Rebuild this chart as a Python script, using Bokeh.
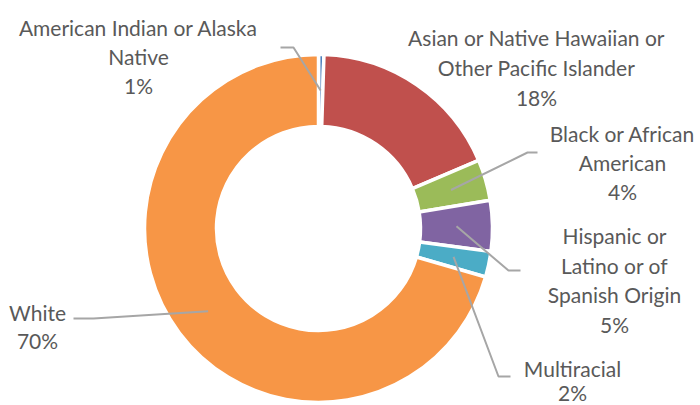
import math
from bokeh.plotting import figure
from bokeh.models import Range1d
from bokeh.core.properties import value
from bokeh.embed import file_html
from bokeh.resources import INLINE

# ---- data ----
categories = ["American Indian or Alaska Native",
              "Asian or Native Hawaiian or Other Pacific Islander",
              "Black or African American",
              "Hispanic or Latino or of Spanish Origin",
              "Multiracial",
              "White"]
shares = [0.5, 18.1, 3.8, 4.7, 2.4, 70.5]  # percent
pct_labels = ["1%", "18%", "4%", "5%", "2%", "70%"]
label_lines = [["American Indian or Alaska", "Native"],
               ["Asian or Native Hawaiian or", "Other Pacific Islander"],
               ["Black or African", "American"],
               ["Hispanic or", "Latino or of", "Spanish Origin"],
               ["Multiracial"],
               ["White"]]
colors = ["#4F81BD", "#C0504D", "#9BBB59", "#8064A2", "#4BACC6", "#F79646"]

# ---- layout (window pixel coordinates; y measured from top) ----
W, H = 700, 405
def Y(py):
    return H - py

cx, cy = 318, Y(228)
R_out, R_in = 174, 102
R_mid = (R_out + R_in) / 2

# label anchor: (center x, first baseline y) and line spacing
label_pos = [(138, 27), (536, 37), (622, 133), (614, 235), (572, 368), (37, 312)]
line_gap = [29, 30, 29, 29.5, 24, 28]
# leader elbows / ends (None = no leader)
leader_path = [[(293, 47), (280, 47)],
               None,
               [(527, 152), (537, 152)],
               [(508, 270), (520, 270)],
               [(498, 376), (510, 376)],
               [(93, 318), (73, 318)]]

p = figure(width=W, height=H, output_backend="svg", toolbar_location=None,
           x_range=Range1d(0, W), y_range=Range1d(0, H),
           min_border=0, min_border_left=0, min_border_right=0,
           min_border_top=0, min_border_bottom=0)
p.axis.visible = False
p.grid.visible = False
p.outline_line_color = None
p.background_fill_color = "white"
p.border_fill_color = "white"

total = sum(shares)
cum = 0.0
starts, ends, mids = [], [], []
for s in shares:
    a0 = math.pi / 2 - 2 * math.pi * cum / total
    cum += s
    a1 = math.pi / 2 - 2 * math.pi * cum / total
    starts.append(a0)
    ends.append(a1)
    mids.append((a0 + a1) / 2)

p.annular_wedge(x=[cx] * len(shares), y=[cy] * len(shares),
                inner_radius=R_in, outer_radius=R_out,
                start_angle=starts, end_angle=ends, direction="clock",
                fill_color=colors, line_color="white", line_width=3.5)

# leader lines
for i, path in enumerate(leader_path):
    if path is None:
        continue
    sx = cx + R_mid * math.cos(mids[i])
    sy = cy + R_mid * math.sin(mids[i])
    xs = [sx] + [q[0] for q in path]
    ys = [sy] + [Y(q[1]) for q in path]
    p.line(xs, ys, line_color="#A6A6A6", line_width=2)

# labels
for i, lines in enumerate(label_lines):
    x0, b0 = label_pos[i]
    allines = lines + [pct_labels[i]]
    for k, t in enumerate(allines):
        p.text(x=[x0], y=[Y(b0 + k * line_gap[i])], text=[t],
               text_align="center", text_baseline="alphabetic",
               text_color="#595959", text_font=value("Lato"),
               text_font_size="21px")

open("out.html", "w").write(file_html(p, INLINE))
